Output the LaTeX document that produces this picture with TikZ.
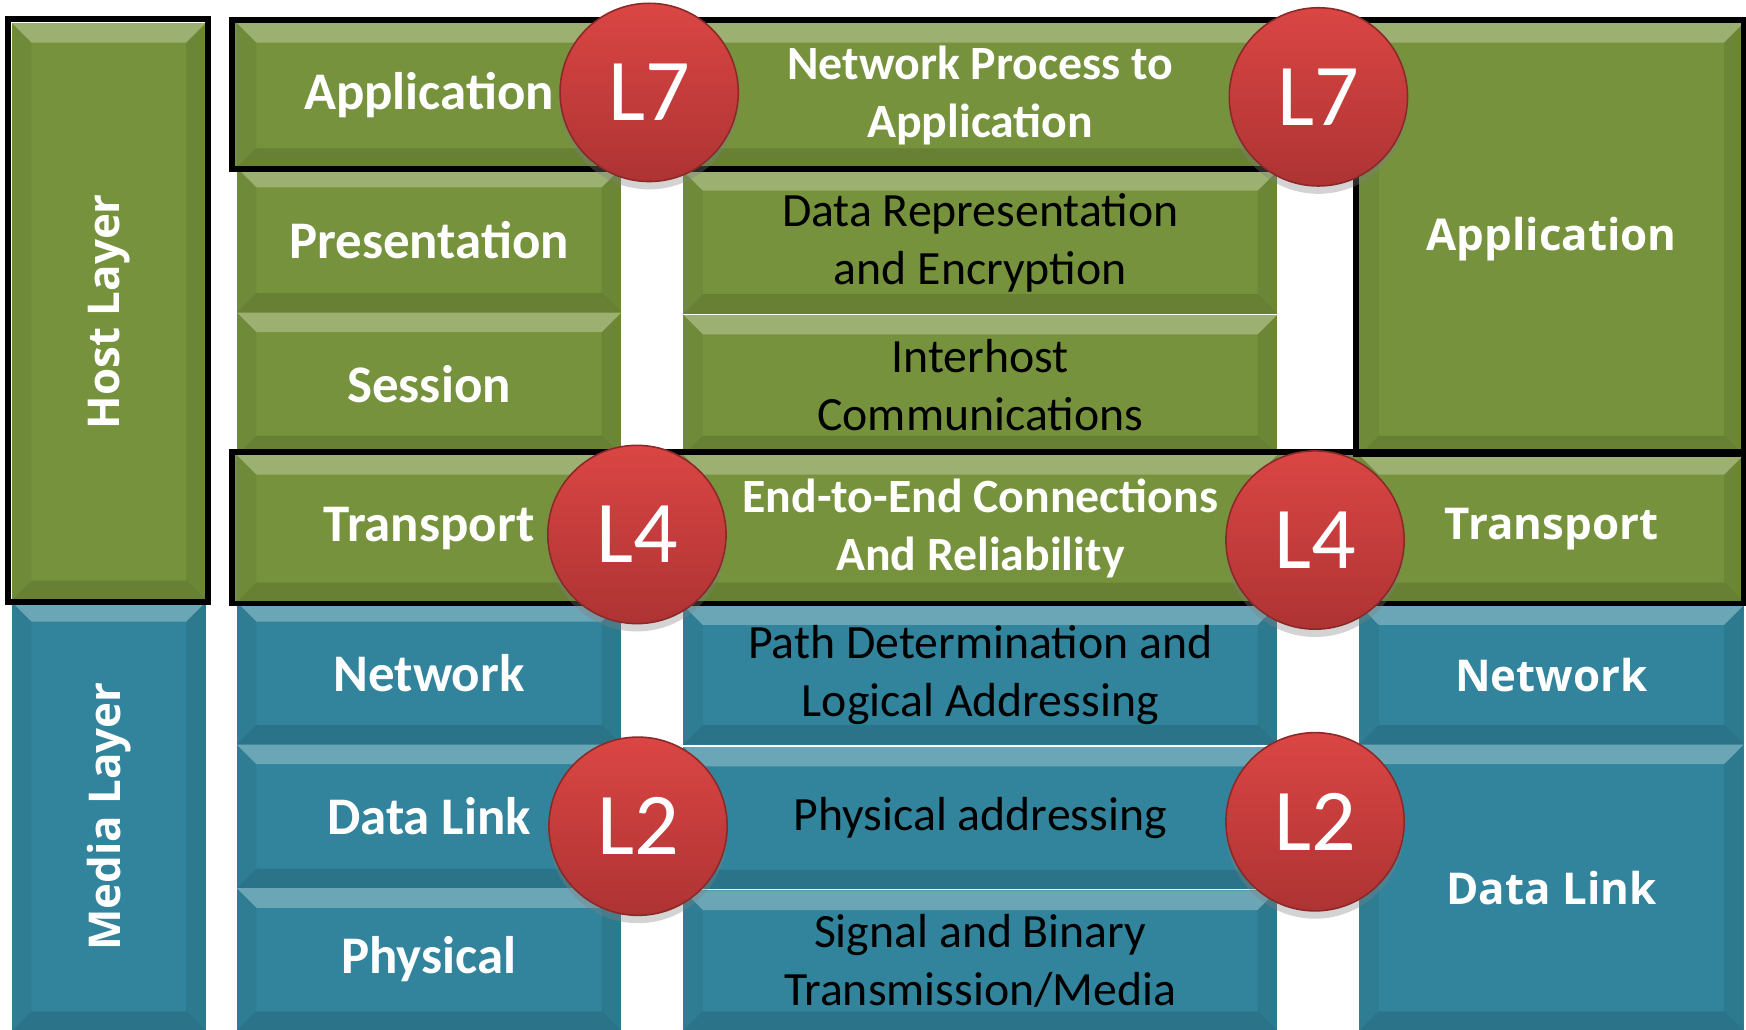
\documentclass[tikz,border=0pt]{standalone}
\usepackage{fontspec}
\setmainfont{Carlito}
\newfontfamily\segoe{Open Sans}
\usetikzlibrary{shadows}

\definecolor{olive}{HTML}{76923C}
\definecolor{teal}{HTML}{31849B}
\definecolor{ballred}{HTML}{DA4644}
\definecolor{balldark}{HTML}{AE3333}

\tikzset{
  bevel/.style={path picture={
    \fill[white,fill opacity=.28] (path picture bounding box.north west) -- (path picture bounding box.north east)
      -- ++(-5pt,-5pt) -- ([shift={(5pt,-5pt)}]path picture bounding box.north west) -- cycle;
    \fill[black,fill opacity=.12] (path picture bounding box.south west) -- (path picture bounding box.south east)
      -- ++(-5pt,5pt) -- ([shift={(5pt,5pt)}]path picture bounding box.south west) -- cycle;
    \fill[black,fill opacity=.05] (path picture bounding box.north west) -- ++(5pt,-5pt)
      -- ([shift={(5pt,5pt)}]path picture bounding box.south west) -- (path picture bounding box.south west) -- cycle;
    \fill[black,fill opacity=.08] (path picture bounding box.north east) -- ++(-5pt,-5pt)
      -- ([shift={(-5pt,5pt)}]path picture bounding box.south east) -- (path picture bounding box.south east) -- cycle;
  }},
  layer/.style={rectangle,inner sep=0pt,anchor=north west,bevel,align=center},
  green/.style={layer,fill=olive},
  blue/.style={layer,fill=teal},
  head/.style={text=white,font=\fontsize{13.5}{16}\selectfont\bfseries},
  duty/.style={text=black,font=\fontsize{12.2}{14.8}\selectfont},
  dutyhead/.style={text=white,font=\fontsize{12.2}{14.8}\selectfont\bfseries},
  tcp/.style={text=white,font=\fontsize{11.2}{13}\selectfont\segoe\bfseries},
  ball/.style={circle,minimum size=1.6cm,inner sep=0pt,top color=ballred,bottom color=balldark,
    draw=balldark!80!black,thin,text=white,font=\fontsize{22.5}{22.5}\selectfont,
    drop shadow={shadow xshift=0pt,shadow yshift=-2pt,opacity=.35}}
}

\begin{document}
\begin{tikzpicture}[x=0.01cm,y=-0.01cm]
\useasboundingbox (0,0) rectangle (1568,925);

% bands behind the bordered rows
\fill[olive] (208,18) rectangle (1160,152);
\fill[olive] (208,406) rectangle (1566,542);

% host and media
\node[green,tcp,minimum width=1.74cm,minimum height=5.18cm] (host) at (10,20) {\rotatebox{90}{Host Layer}};
\node[blue,tcp,minimum width=1.74cm,minimum height=3.85cm] (media) at (10,540) {\rotatebox{90}{Media Layer}};

% OSI names
\node[green,head,minimum width=3.45cm,minimum height=1.30cm] (appL) at (212,20) {Application};
\node[green,head,minimum width=3.45cm,minimum height=1.30cm] (presL) at (212,150) {Presentation};
\node[green,head,minimum width=3.45cm,minimum height=1.28cm] (sessL) at (212,280) {Session};
\node[green,head,minimum width=3.45cm,minimum height=1.32cm] (transL) at (212,408) {Transport};
\node[blue,head,minimum width=3.45cm,minimum height=1.28cm] (netL) at (212,540) {Network};
\node[blue,head,minimum width=3.45cm,minimum height=1.29cm] (dlL) at (212,668) {Data Link};
\node[blue,head,minimum width=3.45cm,minimum height=1.28cm] (physL) at (212,797) {Physical};

% what each layer does
\node[green,dutyhead,minimum width=5.33cm,minimum height=1.30cm] (appM) at (613,20) {Network Process to\\Application};
\node[green,duty,minimum width=5.33cm,minimum height=1.28cm] (presM) at (613,153) {Data Representation\\and Encryption};
\node[green,duty,minimum width=5.33cm,minimum height=1.26cm] (sessM) at (613,282) {Interhost\\Communications};
\node[green,dutyhead,minimum width=5.33cm,minimum height=1.32cm] (transM) at (613,408) {End-to-End Connections\\And Reliability};
\node[blue,duty,minimum width=5.33cm,minimum height=1.25cm] (netM) at (613,543) {Path Determination and\\Logical Addressing};
\node[blue,duty,minimum width=5.33cm,minimum height=1.28cm] (dlM) at (613,670) {Physical addressing};
\node[blue,duty,minimum width=5.33cm,minimum height=1.26cm] (physM) at (613,799) {Signal and Binary\\Transmission/Media};

% TCP/IP names
\node[green,tcp,minimum width=3.45cm,minimum height=3.88cm] (appR) at (1220,20) {Application};
\node[green,tcp,minimum width=3.45cm,minimum height=1.32cm] (transR) at (1220,408) {Transport};
\node[blue,tcp,minimum width=3.45cm,minimum height=1.25cm] (netR) at (1220,543) {Network};
\node[blue,tcp,minimum width=3.45cm,minimum height=2.57cm] (dlR) at (1220,668) {Data Link};

% black frames
\begin{scope}[draw=black,line width=1.5pt]
    \draw (7,17) rectangle (187,541);
    \draw (208,18) rectangle (1160,152);
    \draw (1218,18) rectangle (1566,408);
    \draw (208,406) rectangle (1566,542);
\end{scope}

% layer badges
\node[ball] (l7a) at (583,83) {L7};
\node[ball] (l7b) at (1184,87) {L7};
\node[ball] (l4a) at (572,480) {L4};
\node[ball] (l4b) at (1181,485) {L4};
\node[ball] (l2a) at (573,742) {L2};
\node[ball] (l2b) at (1181,738) {L2};
\end{tikzpicture}
\end{document}
